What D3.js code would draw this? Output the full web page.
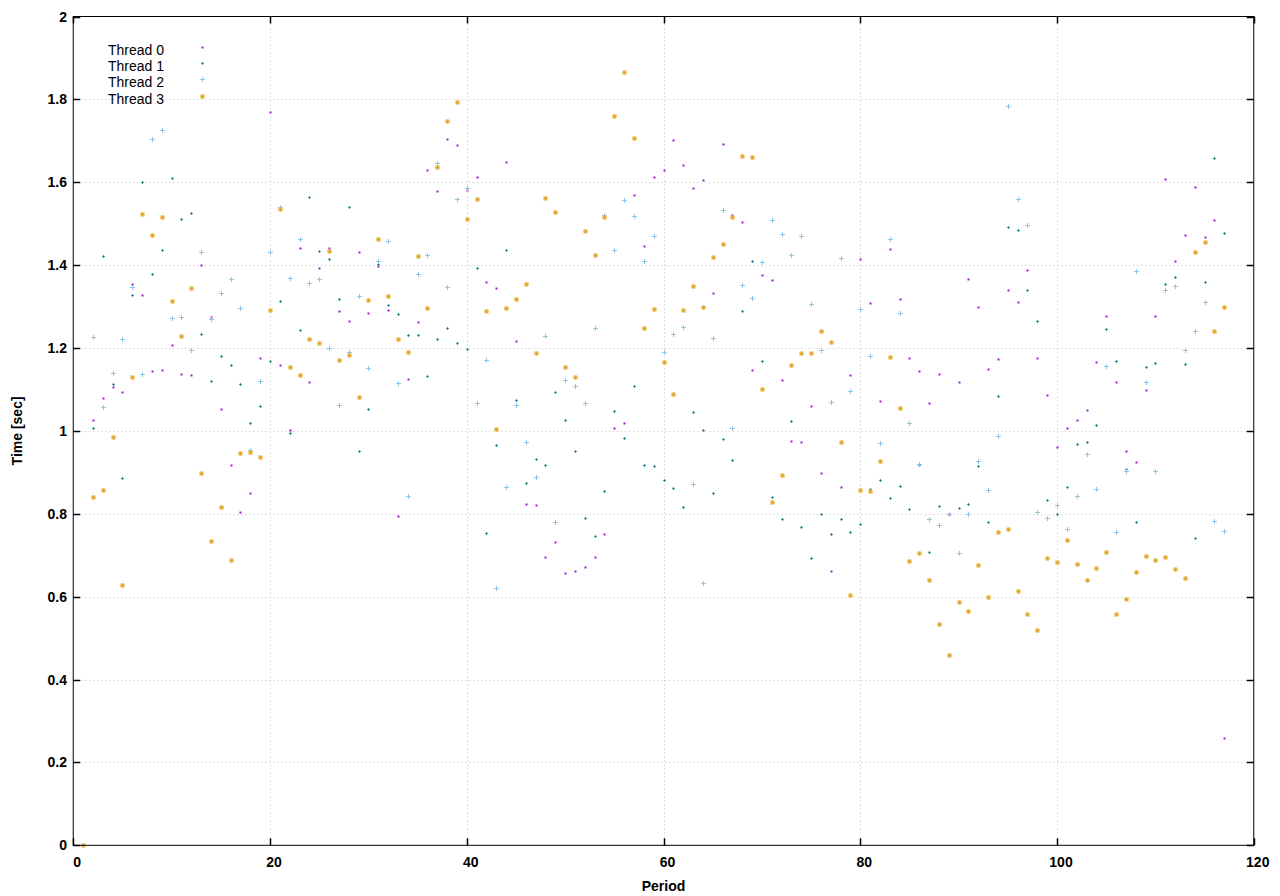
<!DOCTYPE html>
<html>
<head>
<meta charset="utf-8">
<script src="https://cdn.jsdelivr.net/npm/d3@7"></script>
<style>
  body { margin: 0; background: #fff; }
  svg { display: block; }
  text { font-family: "Liberation Sans", Arial, sans-serif; }
</style>
</head>
<body>
<script>
const width = 1280;
const height = 896;

// periods 1..117, one value per thread and period (null = no point)
const periods = d3.range(1, 118);
const threadNames = ["Thread 0", "Thread 1", "Thread 2", "Thread 3"];

const thread0 = [null,1.027,1.080,1.106,1.094,1.354,1.328,1.145,1.147,1.207,
  1.137,1.135,1.400,1.275,1.053,0.918,0.805,0.851,1.176,1.769,
  1.159,1.002,1.441,1.118,1.393,1.441,1.289,1.265,1.431,1.284,
  1.398,1.292,0.795,1.125,1.263,1.629,1.578,1.704,1.689,1.581,
  1.612,1.359,1.345,1.648,1.217,0.824,0.822,0.696,0.733,0.658,
  0.663,0.672,0.696,0.752,1.007,1.019,1.569,1.446,1.612,1.629,
  1.701,1.641,1.586,1.605,1.333,1.692,1.520,1.504,1.147,1.376,
  1.364,1.123,0.976,0.974,1.060,0.899,0.663,0.865,1.135,1.414,
  1.308,1.072,1.439,1.318,1.176,1.145,1.067,1.137,0.800,1.118,
  1.366,1.299,1.149,1.173,1.341,1.312,1.388,1.176,1.087,0.961,
  1.007,1.027,1.051,1.166,1.277,1.118,0.952,0.925,1.099,1.277,
  1.607,1.410,1.472,1.588,1.467,1.508,0.258];

const thread1 = [null,1.007,1.422,1.113,0.887,1.328,1.601,1.378,1.436,1.610,
  1.511,1.525,1.234,1.120,1.181,1.159,1.113,1.019,1.060,1.169,
  1.313,0.995,1.243,1.564,1.434,1.414,1.318,1.540,0.952,1.053,
  1.402,1.304,1.282,1.231,1.231,1.133,1.222,1.248,1.212,1.198,
  1.393,0.754,0.966,1.436,1.075,0.875,0.933,0.918,1.094,1.027,
  0.952,0.790,0.747,0.855,1.048,0.983,1.108,0.918,0.916,0.882,
  0.863,0.817,1.046,1.002,0.851,0.981,0.930,1.289,1.410,1.169,
  0.841,0.788,1.024,0.769,0.694,0.800,0.752,0.788,0.757,0.776,
  0.860,0.882,0.839,0.867,0.812,0.918,0.708,0.819,0.800,0.814,
  0.824,0.916,0.781,1.084,1.492,1.484,1.340,1.265,0.834,0.800,
  0.865,0.969,0.973,1.014,1.245,1.169,0.908,0.781,1.154,1.164,
  1.355,1.371,1.161,0.742,1.360,1.658,1.478];

const thread2 = [null,1.227,1.058,1.140,1.222,1.347,1.137,1.704,1.725,1.272,
  1.275,1.195,1.431,1.270,1.333,1.366,1.296,0.954,1.120,1.431,
  1.540,1.369,1.463,1.357,1.366,1.200,1.063,1.190,1.325,1.152,
  1.410,1.458,1.116,0.843,1.378,1.424,1.646,1.347,1.559,1.586,
  1.067,1.171,0.622,0.865,1.063,0.973,0.889,1.229,0.781,1.123,
  1.108,1.067,1.248,1.520,1.436,1.557,1.518,1.410,1.470,1.190,
  1.234,1.251,0.872,0.634,1.224,1.533,1.007,1.352,1.320,1.407,
  1.508,1.476,1.424,1.471,1.306,1.195,1.070,1.417,1.096,1.294,
  1.181,0.971,1.463,1.284,1.019,0.920,0.788,0.773,0.800,0.706,
  0.800,0.928,0.858,0.988,1.783,1.559,1.496,0.805,0.790,0.822,
  0.764,0.843,0.945,0.860,1.157,0.757,0.904,1.386,1.118,0.904,
  1.340,1.349,1.195,1.241,1.312,0.783,0.759];

const thread3 = [0,0.841,0.858,0.986,0.627,1.130,1.523,1.472,1.516,1.314,
  1.229,1.345,0.899,0.735,0.817,0.689,0.947,0.949,0.937,1.292,
  1.535,1.154,1.135,1.221,1.212,1.434,1.171,1.183,1.082,1.316,
  1.463,1.325,1.222,1.190,1.422,1.296,1.636,1.747,1.793,1.512,
  1.559,1.289,1.005,1.296,1.318,1.354,1.188,1.561,1.528,1.154,
  1.130,1.482,1.424,1.516,1.761,1.865,1.706,1.248,1.294,1.166,
  1.089,1.292,1.349,1.299,1.419,1.451,1.516,1.663,1.660,1.101,
  0.829,0.894,1.159,1.188,1.188,1.241,1.214,0.974,0.605,0.858,
  0.855,0.928,1.178,1.055,0.687,0.706,0.639,0.535,0.460,0.588,
  0.566,0.677,0.600,0.757,0.764,0.614,0.557,0.520,0.694,0.684,
  0.737,0.680,0.641,0.670,0.708,0.557,0.595,0.660,0.699,0.689,
  0.696,0.667,0.646,1.431,1.455,1.241,1.300];

const xTicks = [0, 20, 40, 60, 80, 100, 120];
const yTicks = [0, 0.2, 0.4, 0.6, 0.8, 1, 1.2, 1.4, 1.6, 1.8, 2];

const series = [thread0, thread1, thread2, thread3];

// plot box
const plotL = 73.25, plotR = 1253.75, plotT = 16.5, plotB = 845.3;

const x = d3.scaleLinear().domain([0, 120]).range([plotL, plotR]);
const y = d3.scaleLinear().domain([0, 2]).range([plotB, plotT]);

const svg = d3.select("body").append("svg")
    .attr("width", width).attr("height", height);

// grid - dotted
const grid = svg.append("g").attr("class", "grid")
    .attr("stroke", "#c4c4c4").attr("stroke-width", 1).attr("stroke-dasharray", "1,3");
grid.selectAll(".gx").data(xTicks.slice(1, -1)).enter().append("line")
    .attr("x1", d => Math.round(x(d)) + 0.5).attr("x2", d => Math.round(x(d)) + 0.5)
    .attr("y1", plotT).attr("y2", plotB);
grid.selectAll(".gy").data(yTicks.slice(1, -1)).enter().append("line")
    .attr("y1", d => Math.round(y(d)) + 0.5).attr("y2", d => Math.round(y(d)) + 0.5)
    .attr("x1", plotL).attr("x2", plotR);

// markers, one style per thread
function drawThread(i, g, px, py) {
    if (i == 0) {
        g.append("rect").attr("x", px - 1).attr("y", py - 1).attr("width", 2).attr("height", 2)
            .attr("fill", "#9a1ad6");
    } else if (i == 1) {
        g.append("path").attr("d", `M${px-1.5},${py}H${px+1.5}M${px},${py-1.5}V${py+1.5}`)
            .attr("stroke", "#6fb8c4").attr("stroke-width", 1);
        g.append("rect").attr("x", px - 0.8).attr("y", py - 0.8).attr("width", 1.6).attr("height", 1.6)
            .attr("fill", "#167080");
    } else if (i == 2) {
        g.append("path").attr("d", `M${px-2.5},${py}H${px+2.5}M${px},${py-2.5}V${py+2.5}`)
            .attr("stroke", "#8cc6e6").attr("stroke-width", 1);
    } else {
        g.append("rect").attr("x", px - 2).attr("y", py - 2).attr("width", 4).attr("height", 4)
            .attr("fill", "#ebb446");
        g.append("path").attr("d", `M${px-2},${py}H${px+2}M${px},${py-2}V${py+2}`)
            .attr("stroke", "#e2a52a").attr("stroke-width", 0.8);
    }
}

const points = svg.append("g").attr("class", "points");
series.forEach((vals, i) => {
    const g = points.append("g").attr("class", "thread" + i);
    periods.forEach((p, k) => {
        if (vals[k] == null) return;
        drawThread(i, g, Math.round(x(p)) + 0.5, Math.round(y(vals[k])) + 0.5);
    });
});

// border
svg.append("rect").attr("x", plotL).attr("y", plotT)
    .attr("width", plotR - plotL).attr("height", plotB - plotT)
    .attr("fill", "none").attr("stroke", "#000").attr("stroke-width", 1);

// ticks (inward, mirrored)
const ticks = svg.append("g").attr("stroke", "#000").attr("stroke-width", 1.5);
xTicks.forEach(d => {
    const xx = Math.round(x(d)) + 0.5;
    ticks.append("line").attr("x1", xx).attr("x2", xx).attr("y1", plotB).attr("y2", plotB - 7);
    ticks.append("line").attr("x1", xx).attr("x2", xx).attr("y1", plotT).attr("y2", plotT + 7);
});
yTicks.forEach(d => {
    const yy = Math.round(y(d)) + 0.5;
    ticks.append("line").attr("y1", yy).attr("y2", yy).attr("x1", plotL).attr("x2", plotL + 7);
    ticks.append("line").attr("y1", yy).attr("y2", yy).attr("x1", plotR).attr("x2", plotR - 7);
});

// tick labels
svg.append("g").selectAll("text").data(xTicks).enter().append("text")
    .attr("x", d => x(d) + 4).attr("y", 867)
    .attr("text-anchor", "middle").attr("font-size", "14px").attr("font-weight", "bold")
    .text(d => d);
svg.append("g").selectAll("text").data(yTicks).enter().append("text")
    .attr("x", 67).attr("y", d => y(d) + 5)
    .attr("text-anchor", "end").attr("font-size", "14px").attr("font-weight", "bold")
    .text(d => d);

// axis titles
svg.append("text").attr("x", (plotL + plotR) / 2).attr("y", 891)
    .attr("text-anchor", "middle").attr("font-size", "14px").attr("font-weight", "bold")
    .text("Period");
svg.append("text").attr("transform", `translate(22,${(plotT + plotB) / 2}) rotate(-90)`)
    .attr("text-anchor", "middle").attr("font-size", "14px").attr("font-weight", "bold")
    .text("Time [sec]");

// legend
const legend = svg.append("g").attr("class", "legend");
threadNames.forEach((name, i) => {
    const ly = 50 + i * 16.2;
    legend.append("text").attr("x", 108).attr("y", ly + 5)
        .attr("font-size", "14px").attr("fill", "#000").text(name);
    drawThread(i, legend, 202.5, Math.round(ly - 3) + 0.5);
});
</script>
</body>
</html>
